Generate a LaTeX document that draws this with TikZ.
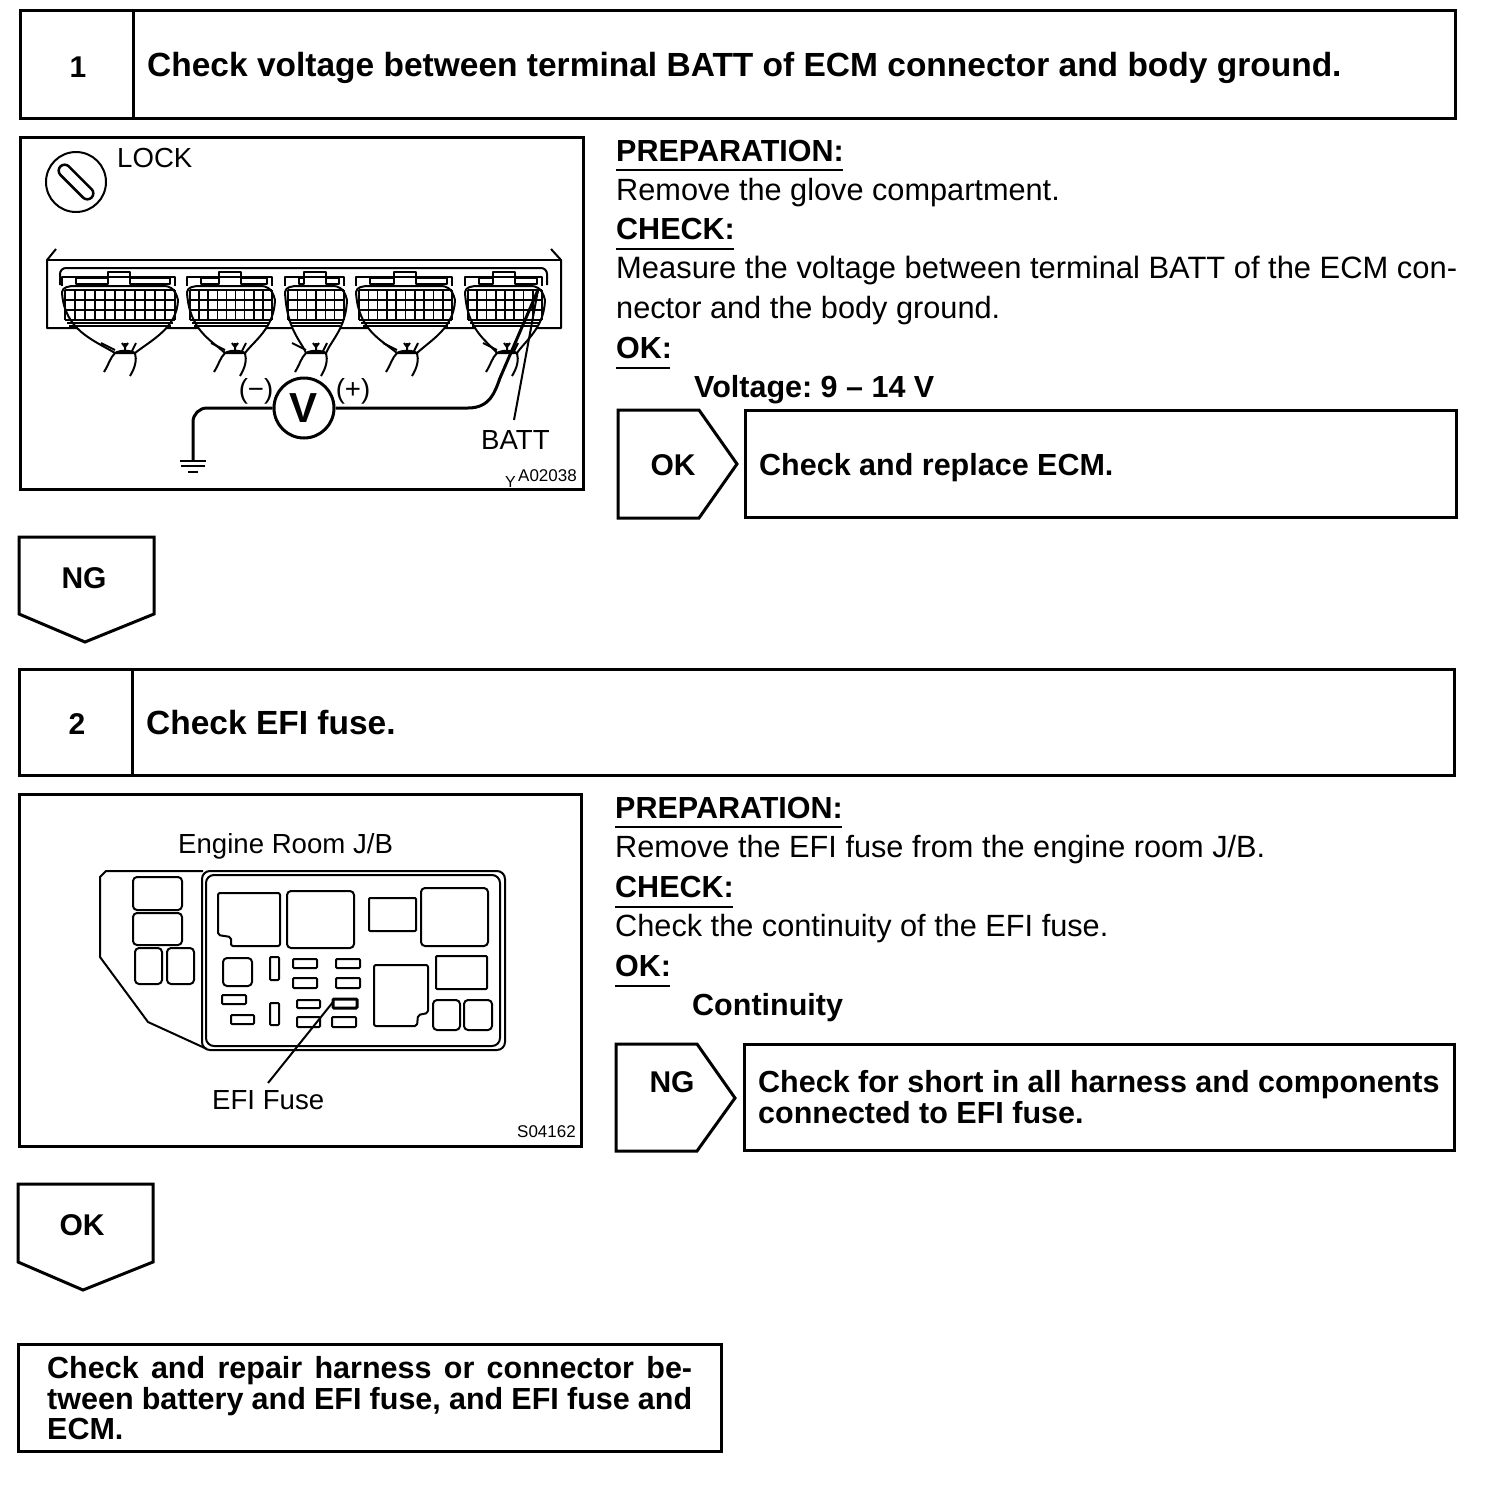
\documentclass[tikz,border=0pt]{standalone}
\usepackage{fontspec}
\setmainfont{Liberation Sans}
\frenchspacing
\tikzset{
  boxline/.style={line width=3pt, line join=miter},
  figline/.style={line width=2pt, line join=round},
  wireline/.style={line width=3pt},
  plain/.style={anchor=base west, inner sep=0pt, font=\fontsize{30.7}{30}\selectfont},
  heavy/.style={anchor=base west, inner sep=0pt, font=\fontsize{30.5}{30}\selectfont\bfseries},
  title/.style={anchor=base west, inner sep=0pt, font=\fontsize{33.5}{30}\selectfont\bfseries},
  tag/.style={anchor=base, inner sep=0pt, font=\fontsize{30}{30}\selectfont\bfseries},
  figtext/.style={anchor=base west, inner sep=0pt, font=\fontsize{27.6}{27}\selectfont},
  fine/.style={anchor=base west, inner sep=0pt, font=\fontsize{17}{17}\selectfont}
}
% one ECM connector: left, right, harness centre, columns
\newcommand{\ecmplug}[4]{
  \draw[figline, fill=white] (#1,292) .. controls ({#1+2},330) and ({(#1+#3)/2},340) .. ({#3-10},353)
    -- ({#3+10},353) .. controls ({(#2+#3)/2},340) and ({#2-1},328) .. (#2,300)
    .. controls ({#2-3},287) and ({#2-10},286) .. ({#2-14},286) -- ({#1+14},286)
    .. controls ({#1+6},286) and ({#1+1},287) .. cycle;
  % latch and tabs
  \draw[figline] (#1,286) -- (#1,277) -- ({#2-3},277) -- ({#2-3},286);
  \draw[figline] ({#1+14},278) rectangle ({(#1+#2)/2-12},284);
  \draw[figline] ({(#1+#2)/2+10},278) rectangle ({#2-8},284);
  \draw[figline] ({(#1+#2)/2-12},277) -- ({(#1+#2)/2-12},272) -- ({(#1+#2)/2+10},272) -- ({(#1+#2)/2+10},277);
  % terminal grid
  \foreach \rowy in {290,300,310,320}
    \draw[line width=1.6pt] ({#1+3},\rowy) -- ({#2-3},\rowy);
  \foreach \col in {0,...,#4}
    \draw[line width=1.6pt] ({#1+3+\col*(#2-#1-6)/#4},290) -- ({#1+3+\col*(#2-#1-6)/#4},320);
  \draw[figline] ({#1+5},323) -- ({#2-5},323);
  \draw[figline] ({#1+7},326) -- ({#2-7},326);
  % harness
  \draw[figline] ({#3-10},353) .. controls ({#3-5},350) and ({#3+5},350) .. ({#3+10},353);
  \draw[figline] ({#3-10},353) .. controls ({#3-15},358) and ({#3-16},364) .. ({#3-21},372);
  \draw[figline] ({#3+10},353) .. controls ({#3+12},360) and ({#3+10},368) .. ({#3+5},376);
  \draw[figline] ({#3-24},343) -- ({#3-10},350);
  \draw[figline] ({#3},343) -- ({#3},351) ({#3-3},343) -- ({#3},347) -- ({#3+3},343);
  \draw[figline] ({#3+11},343) -- ({#3+7},351);
}
\begin{document}
\begin{tikzpicture}[x=1pt,y=-1pt]
\useasboundingbox (0,0) rectangle (1504,1486);
\fill[white] (0,0) rectangle (1504,1486);
% Step 1 header
\draw[boxline] (20,10) rectangle (1455,118);
\draw[boxline] (133,10) -- (133,118);
\node[tag] (numone) at (78,77) {1};
\node[title] (titleone) at (147,76) {Check voltage between terminal BATT of ECM connector and body ground.};
% Step 1 figure
\draw[boxline] (20,137) rectangle (583,489);
\draw[figline] (76,182) circle (30);
\draw[line width=2.5pt, rounded corners=6pt, rotate around={-45:(76,182)}] (54,176) rectangle (98,188);
\node[figtext] (locklabel) at (117,167) {LOCK};
% ECM housing
\draw[figline] (56,249) -- (47,260) -- (47,328) -- (561,328) -- (561,260) -- (551,249);
\draw[figline] (47,260) -- (561,260);
\draw[figline, rounded corners=6pt] (60,285) -- (60,268) -- (547,268) -- (547,285);
\ecmplug{62}{178}{125}{11}
\ecmplug{187}{275}{235}{9}
\ecmplug{285}{347}{316}{6}
\ecmplug{356}{455}{407}{10}
\ecmplug{465}{545}{507}{8}
% Voltmeter and leads
\node[draw, circle, line width=3pt, minimum size=60pt, inner sep=0pt, font=\fontsize{42}{42}\selectfont\bfseries, fill=white] (meter) at (304,408) {V};
\node[figtext, anchor=center] (minuslabel) at (256,391) {(−)};
\node[figtext, anchor=center] (pluslabel) at (353,391) {(+)};
\coordinate (gnd) at (193,461);
\coordinate (batt) at (538,290);
\coordinate (battend) at (514,420);
\draw[wireline, rounded corners=14pt] (meter.west) -- (193,408) -- (gnd);
\draw[wireline] (meter.east) -- (468,408) .. controls (490,408) and (495,392) .. (500,378) -- (batt);
\draw[line width=2pt] (gnd) ++(-13,0) -- ++(26,0) (gnd) ++(-12,5) -- ++(24,0) (gnd) ++(-5,11) -- ++(10,0);
\draw[figline] (battend) -- (batt);
\node[figtext] (battlabel) at (481,449) {BATT};
\node[fine] (figcodeone) at (518,481) {A02038};
\node[fine, font=\fontsize{16}{16}\selectfont] (ylabel) at (505,487) {Y};
% Step 1 text
\node[heavy] (prepone) at (616,161) {PREPARATION:};
\draw[line width=1.5pt] (616,170) -- (843,170);
\node[plain] (removeone) at (616,200) {Remove the glove compartment.};
\node[heavy] (checkone) at (616,239) {CHECK:};
\draw[line width=1.5pt] (616,249) -- (734,249);
\node[plain, font=\fontsize{30.9}{30}\selectfont] (measureone) at (616,278) {Measure the voltage between terminal BATT of the ECM con-};
\node[plain] (measuretwo) at (616,318) {nector and the body ground.};
\node[heavy] (okone) at (616,358) {OK:};
\draw[line width=1.5pt] (616,368) -- (670,368);
\node[heavy] (voltage) at (694,397) {Voltage: 9 -- 14 V};
% OK branch
\draw[boxline] (618,410) -- (699,410) -- (737,464) -- (699,518) -- (618,518) -- cycle;
\node[tag] (oktag) at (673,475) {OK};
\draw[boxline] (745,410) rectangle (1456,517);
\node[heavy] (replace) at (759,475) {Check and replace ECM.};
% NG arrow
\draw[boxline] (19,537) -- (154,537) -- (154,614) -- (85,642) -- (19,614) -- cycle;
\node[tag] (ngtagone) at (84,588) {NG};
% Step 2 header
\draw[boxline] (19,669) rectangle (1454,775);
\draw[boxline] (132,669) -- (132,775);
\node[tag] (numtwo) at (77,734) {2};
\node[title] (titletwo) at (146,734) {Check EFI fuse.};
% Step 2 figure
\draw[boxline] (19,794) rectangle (581,1146);
\node[figtext] (roomlabel) at (178,853) {Engine Room J/B};
\draw[figline] (203,871) -- (106,871) -- (100,877) -- (100,957) -- (148,1022) -- (207,1049);
\draw[figline, rounded corners=8pt] (202,871) rectangle (505,1050);
\draw[figline, rounded corners=8pt] (206,875) rectangle (500,1046);
\foreach \xa/\ya/\xb/\yb in {133/877/182/910, 133/913/182/945, 135/948/162/984, 167/948/194/984,
    287/891/354/948, 421/888/488/946, 223/958/252/986, 433/1000/460/1030, 464/1000/492/1030}
  \draw[figline, rounded corners=4pt] (\xa,\ya) rectangle (\xb,\yb);
\foreach \xa/\ya/\xb/\yb in {369/898/416/931, 270/957/279/980, 293/959/317/968, 336/959/360/968,
    293/978/317/988, 336/978/360/988, 222/995/246/1004, 231/1015/254/1024, 270/1003/279/1025,
    297/1000/320/1008, 297/1017/320/1027, 332/1017/356/1027, 436/956/487/989}
  \draw[figline, rounded corners=1pt] (\xa,\ya) rectangle (\xb,\yb);
% Notched relays
\draw[figline, rounded corners=2pt] (218,893) -- (280,893) -- (280,946) -- (231,946) -- (231,937) -- (218,935) -- cycle;
\draw[figline, rounded corners=2pt] (374,965) -- (428,965) -- (428,1013) -- (418,1015) -- (417,1026) -- (374,1026) -- cycle;
% Marked fuse
\draw[line width=3pt, rounded corners=1pt] (333,999) rectangle (357,1008);
\coordinate (fusepoint) at (333,1002);
\coordinate (fuseend) at (268,1083);
\draw[figline] (fusepoint) -- (fuseend);
\node[figtext] (fuselabel) at (212,1109) {EFI Fuse};
\node[fine] (figcodetwo) at (517,1137) {S04162};
% Step 2 text
\node[heavy] (preptwo) at (615,818) {PREPARATION:};
\draw[line width=1.5pt] (615,827) -- (842,827);
\node[plain] (removetwo) at (615,857) {Remove the EFI fuse from the engine room J/B.};
\node[heavy] (checktwo) at (615,897) {CHECK:};
\draw[line width=1.5pt] (615,907) -- (733,907);
\node[plain] (continuityline) at (615,936) {Check the continuity of the EFI fuse.};
\node[heavy] (oktwo) at (615,976) {OK:};
\draw[line width=1.5pt] (615,986) -- (670,986);
\node[heavy] (continuity) at (692,1015) {Continuity};
% NG branch
\draw[boxline] (616,1044) -- (697,1044) -- (735,1098) -- (697,1151) -- (616,1151) -- cycle;
\node[tag] (ngtagtwo) at (672,1092) {NG};
\draw[boxline] (744,1044) rectangle (1454,1150);
\node[heavy] (shortone) at (758,1092) {Check for short in all harness and components};
\node[heavy] (shorttwo) at (758,1123) {connected to EFI fuse.};
% OK arrow
\draw[boxline] (18,1184) -- (153,1184) -- (153,1262) -- (83,1290) -- (18,1262) -- cycle;
\node[tag] (oktagtwo) at (82,1235) {OK};
% Final box
\draw[boxline] (18,1344) rectangle (721,1451);
\node[heavy] (repairone) at (47,1378) {\hbox to 645pt{\spaceskip=0pt plus 1fil Check and repair harness or connector be-}};
\node[heavy] (repairtwo) at (47,1409) {\hbox to 645pt{\spaceskip=0pt plus 1fil tween battery and EFI fuse, and EFI fuse and}};
\node[heavy] (repairthree) at (47,1439) {ECM.};
\end{tikzpicture}
\end{document}
